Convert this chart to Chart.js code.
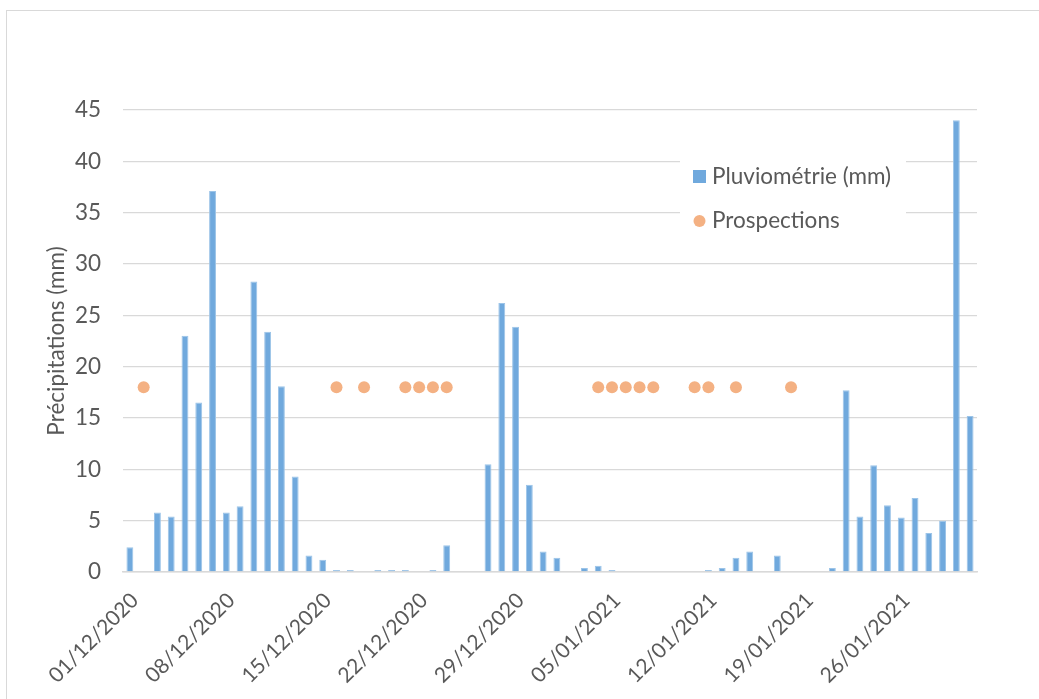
<!DOCTYPE html>
<html>
<head>
<meta charset="utf-8">
<script src="https://cdn.jsdelivr.net/npm/chart.js@4/dist/chart.umd.min.js"></script>
<style>
  html, body { margin: 0; padding: 0; background: #fff; }
  #wrap { position: relative; width: 1039px; height: 699px; }
  #frame { position: absolute; left: 6px; top: 10px; right: -10px; bottom: -10px;
           border-top: 1.5px solid #d9d9d9; border-left: 1.5px solid #d9d9d9; }
  canvas { position: absolute; left: 0; top: 0; }
</style>
</head>
<body>
<div id="wrap">
  <div id="frame"></div>
  <canvas id="rainChart" width="1039" height="699"></canvas>
</div>
<script>
// days of the period (Dec 2020 - Jan 2021)
const days = [
  '01/12/2020','02/12/2020','03/12/2020','04/12/2020','05/12/2020','06/12/2020','07/12/2020',
  '08/12/2020','09/12/2020','10/12/2020','11/12/2020','12/12/2020','13/12/2020','14/12/2020',
  '15/12/2020','16/12/2020','17/12/2020','18/12/2020','19/12/2020','20/12/2020','21/12/2020',
  '22/12/2020','23/12/2020','24/12/2020','25/12/2020','26/12/2020','27/12/2020','28/12/2020',
  '29/12/2020','30/12/2020','31/12/2020','01/01/2021','02/01/2021','03/01/2021','04/01/2021',
  '05/01/2021','06/01/2021','07/01/2021','08/01/2021','09/01/2021','10/01/2021','11/01/2021',
  '12/01/2021','13/01/2021','14/01/2021','15/01/2021','16/01/2021','17/01/2021','18/01/2021',
  '19/01/2021','20/01/2021','21/01/2021','22/01/2021','23/01/2021','24/01/2021','25/01/2021',
  '26/01/2021','27/01/2021','28/01/2021','29/01/2021','30/01/2021','31/01/2021'
];

// daily rainfall (mm)
const rainfall = [
  2.4, 0, 5.8, 5.4, 23.0, 16.5, 37.1,
  5.8, 6.4, 28.3, 23.4, 18.1, 9.3, 1.6,
  1.2, 0.2, 0.2, 0, 0.2, 0.2, 0.2,
  0, 0.2, 2.6, 0, 0, 10.5, 26.2,
  23.9, 8.5, 2.0, 1.4, 0, 0.4, 0.6,
  0.2, 0, 0, 0, 0, 0, 0,
  0.2, 0.4, 1.4, 2.0, 0, 1.6, 0,
  0, 0, 0.4, 17.7, 5.4, 10.4, 6.5,
  5.3, 7.2, 3.8, 5.0, 44.0, 15.2
];

// days with a field survey, shown at a fixed level
const prospectionDays = [
  '02/12/2020','16/12/2020','18/12/2020','21/12/2020','22/12/2020','23/12/2020','24/12/2020',
  '04/01/2021','05/01/2021','06/01/2021','07/01/2021','08/01/2021',
  '11/01/2021','12/01/2021','14/01/2021','18/01/2021'
];
const prospectionLevel = 18;

const yTicks = [0, 5, 10, 15, 20, 25, 30, 35, 40, 45];

const prospections = days.map(d => prospectionDays.includes(d) ? prospectionLevel : null);

const textColor = '#595959';
const gridColor = '#d9d9d9';
const fontFamily = 'Lato, "Open Sans", sans-serif';
const fontSize = 22.5;

// legend drawn inside the plot, on a white box hiding the grid
const insideLegend = {
  id: 'insideLegend',
  beforeDatasetsDraw(chart) {
    const ctx = chart.ctx;
    const area = chart.chartArea;
    const x = area.right - 297;
    const y = area.top + 40;
    ctx.save();
    ctx.fillStyle = '#fff';
    ctx.fillRect(x, y, 226, 86);
    ctx.font = fontSize + 'px ' + fontFamily;
    ctx.textBaseline = 'middle';
    const ds = chart.data.datasets;
    // bar item
    ctx.fillStyle = ds[0].backgroundColor;
    ctx.fillRect(x + 13, y + 20, 13, 13);
    ctx.fillStyle = textColor;
    ctx.fillText(ds[0].label, x + 32, y + 27);
    // dot item
    ctx.fillStyle = ds[1].backgroundColor;
    ctx.beginPath();
    ctx.arc(x + 19.5, y + 71, 6, 0, Math.PI * 2);
    ctx.fill();
    ctx.fillStyle = textColor;
    ctx.fillText(ds[1].label, x + 32, y + 71);
    ctx.restore();
  }
};

const chartCtx = document.getElementById('rainChart').getContext('2d');
const chart = new Chart(chartCtx, {
  data: {
    labels: days,
    datasets: [
      {
        type: 'bar',
        label: 'Pluviométrie (mm)',
        data: rainfall,
        backgroundColor: '#70a9dd',
        borderColor: '#9cc4e8',
        borderWidth: { left: 1, right: 1, top: 1, bottom: 0 },
        barPercentage: 0.5,
        categoryPercentage: 1.0,
        order: 2
      },
      {
        type: 'line',
        label: 'Prospections',
        data: prospections,
        showLine: false,
        backgroundColor: '#f4b183',
        borderColor: '#f4b183',
        pointRadius: 6,
        pointBorderWidth: 0,
        order: 1
      }
    ]
  },
  options: {
    responsive: false,
    animation: false,
    layout: { padding: { top: 110, right: 62, left: 0, bottom: 0 } },
    plugins: {
      legend: { display: false },
      tooltip: { enabled: false }
    },
    scales: {
      x: {
        offset: true,
        grid: { display: false, drawTicks: false },
        border: { display: true, color: gridColor, width: 1.5 },
        ticks: {
          autoSkip: false,
          maxRotation: 45,
          minRotation: 45,
          padding: 16,
          labelOffset: 5,
          color: textColor,
          font: { family: fontFamily, size: 21 },
          callback: (value, index) => index % 7 === 0 ? days[index] : ''
        },
        afterFit: scale => { scale.height = 127; }
      },
      y: {
        min: 0,
        max: 45,
        afterBuildTicks: scale => { scale.ticks = yTicks.map(v => ({ value: v })); },
        grid: { color: gridColor, lineWidth: 1.3, drawTicks: false },
        border: { display: false },
        ticks: {
          padding: 22,
          color: textColor,
          font: { family: fontFamily, size: fontSize }
        },
        title: {
          display: true,
          text: 'Précipitations (mm)',
          color: textColor,
          font: { family: fontFamily, size: fontSize },
          padding: { top: 43, bottom: 0 }
        },
        afterFit: scale => { scale.width = 123; }
      }
    }
  },
  plugins: [insideLegend]
});
</script>
</body>
</html>
